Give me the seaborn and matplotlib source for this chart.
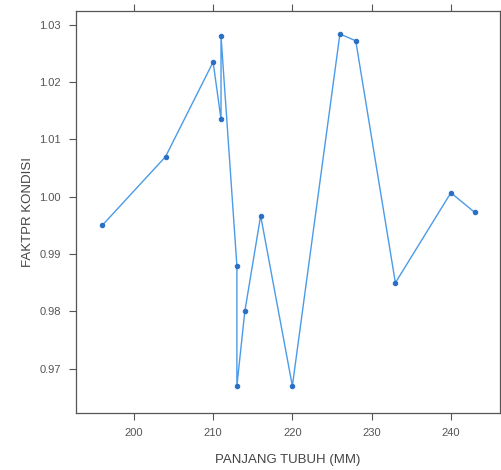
import matplotlib
matplotlib.use("Agg")
import matplotlib.pyplot as plt
import seaborn as sns
import pandas as pd

panjang = [196, 204, 210, 211, 211, 213, 213, 214, 216, 220, 226, 228, 233, 240, 243]
faktor = [0.995, 1.007, 1.0235, 1.0135, 1.028, 0.988, 0.967, 0.980, 0.9967, 0.967,
          1.0284, 1.0272, 0.985, 1.0007, 0.9973]
x_ticks = [200, 210, 220, 230, 240]
y_ticks = [0.97, 0.98, 0.99, 1.00, 1.01, 1.02, 1.03]

df = pd.DataFrame({"x": panjang, "y": faktor})

sns.set_style("white")
plt.rcParams['font.family'] = ['Liberation Sans', 'DejaVu Sans']

fig = plt.figure(figsize=(5.02, 4.70), dpi=100)
ax = fig.add_axes([0.1514, 0.1213, 0.8446, 0.8553])

sns.lineplot(data=df, x="x", y="y", sort=False, estimator=None, ax=ax,
             color="#4a9be8", linewidth=1.0, marker="o", markersize=3.2,
             markerfacecolor="#2a6fc4", markeredgecolor="#2a6fc4")

ax.set_xlim(192.7, 246.2)
ax.set_ylim(0.9623, 1.0324)
ax.set_xticks(x_ticks)
ax.set_xticklabels([str(v) for v in x_ticks])
ax.set_yticks(y_ticks)
ax.set_yticklabels([f"{v:.2f}" for v in y_ticks])
ax.tick_params(axis="both", which="both", direction="out", length=5, width=0.8,
               color="#555555", labelsize=8, labelcolor="#555555",
               top=True, right=True, left=True, bottom=True,
               labeltop=False, labelright=False, pad=6)
for s in ax.spines.values():
    s.set_color("#555555")
    s.set_linewidth(0.9)
ax.set_xlabel("PANJANG TUBUH (MM)", fontsize=9.5, color="#444444", labelpad=11)
ax.set_ylabel("FAKTPR KONDISI", fontsize=9.5, color="#444444", labelpad=4)

fig.savefig("out.png", dpi=100)
